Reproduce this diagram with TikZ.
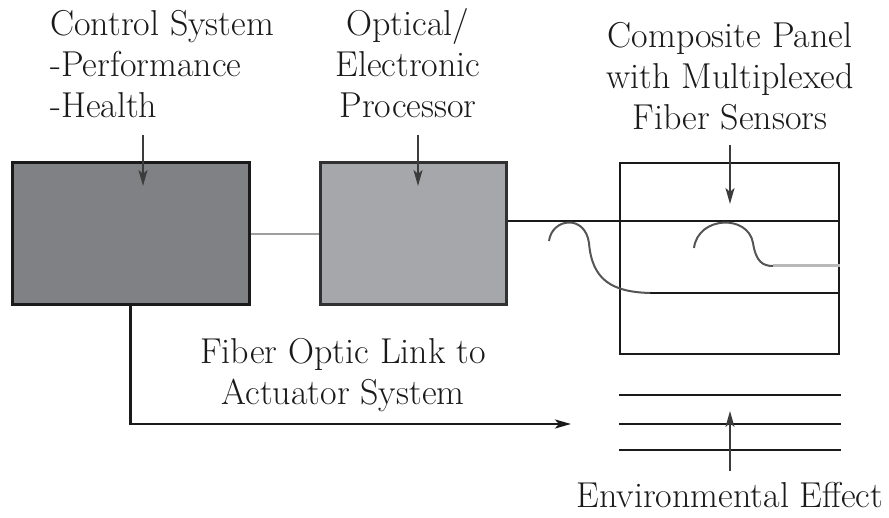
\documentclass[tikz,border=0pt]{standalone}
\usetikzlibrary{arrows.meta}
\definecolor{darkbox}{HTML}{808184}
\definecolor{lightbox}{HTML}{A6A7AA}
\definecolor{ink}{HTML}{1A1A1A}
\definecolor{fibergray}{HTML}{555555}
\begin{document}
\begin{tikzpicture}[x=1pt,y=-1pt,
  lbl/.style={font=\fontsize{36}{41}\selectfont, text=ink, inner sep=0pt},
  blk/.style={draw=ink, line width=3pt, inner sep=0pt},
  feed/.style={draw=ink!85, line width=2pt, -{Stealth[length=16pt,width=9pt,inset=4pt]}},
  wire/.style={draw=ink, line width=2.5pt},
  fiber/.style={draw=fibergray, line width=2pt}]
\useasboundingbox (0,0) rectangle (889,518);
% boxes
\node[blk, fill=darkbox, minimum width=237pt, minimum height=142pt] (b1) at (130.5,234) {};
\node[blk, fill=lightbox, draw=ink!90, minimum width=186pt, minimum height=142pt] (b2) at (413,234) {};
\node[blk, line width=2.5pt, minimum width=219pt, minimum height=191pt] (panel) at (729.5,258.5) {};
% labels (base = baseline of last line)
\node[lbl, align=left, anchor=base west] (tcs) at (50,118) {Control System\\-Performance\\-Health};
\node[lbl, align=center, anchor=base] (top) at (408,118) {Optical/\\Electronic\\Processor};
\node[lbl, align=center, anchor=base] (tcp) at (730,130) {Composite Panel\\with Multiplexed\\Fiber Sensors};
\node[lbl, align=center, anchor=base] (tfo) at (343,405) {Fiber Optic Link to\\Actuator System};
\node[lbl, anchor=base] (tenv) at (730,507) {Environmental Effect};
% coordinates
\coordinate (a1s) at (143,135); \coordinate (a1e) at (143,186);
\coordinate (a2s) at (418,135); \coordinate (a2e) at (418,186);
\coordinate (a3s) at (730,145); \coordinate (a3e) at (730,204);
\coordinate (a4s) at (730,471); \coordinate (a4e) at (730,411);
\coordinate (lnk) at (571,424);
\coordinate (w1s) at (b2.east |- 0,221); \coordinate (w1e) at (panel.east |- 0,221);
\coordinate (w2s) at (650,293); \coordinate (w2e) at (panel.east |- 0,293);
\coordinate (w3s) at (773,266); \coordinate (w3e) at (panel.east |- 0,266);
\coordinate (e1s) at (619,395); \coordinate (e1e) at (841,395);
\coordinate (e2s) at (619,424); \coordinate (e2e) at (841,424);
\coordinate (e3s) at (619,450); \coordinate (e3e) at (841,450);
% connectors
\draw[draw=gray!75, line width=2.5pt] (b1.east) -- (b2.west);
\draw[wire] (w1s) -- (w1e);
\draw[wire] (w2s) -- (w2e);
\draw[draw=gray!55, line width=3pt] (w3s) -- (w3e);
\draw[fiber] (549,241) .. controls (552,218) and (585,214) .. (589,243)
  .. controls (592,280) and (612,292) .. (w2s);
\draw[fiber] (694,248) .. controls (698,216) and (748,214) .. (753,243)
  .. controls (756,262) and (763,266) .. (w3s);
\draw[wire, line width=2.5pt, -{Stealth[length=16pt,width=9pt,inset=4pt]}] (b1.south) |- (lnk);
\draw[wire] (e1s) -- (e1e);
\draw[wire] (e2s) -- (e2e);
\draw[wire] (e3s) -- (e3e);
\draw[feed] (a1s) -- (a1e);
\draw[feed] (a2s) -- (a2e);
\draw[feed] (a3s) -- (a3e);
\draw[feed] (a4s) -- (a4e);
\end{tikzpicture}
\end{document}
